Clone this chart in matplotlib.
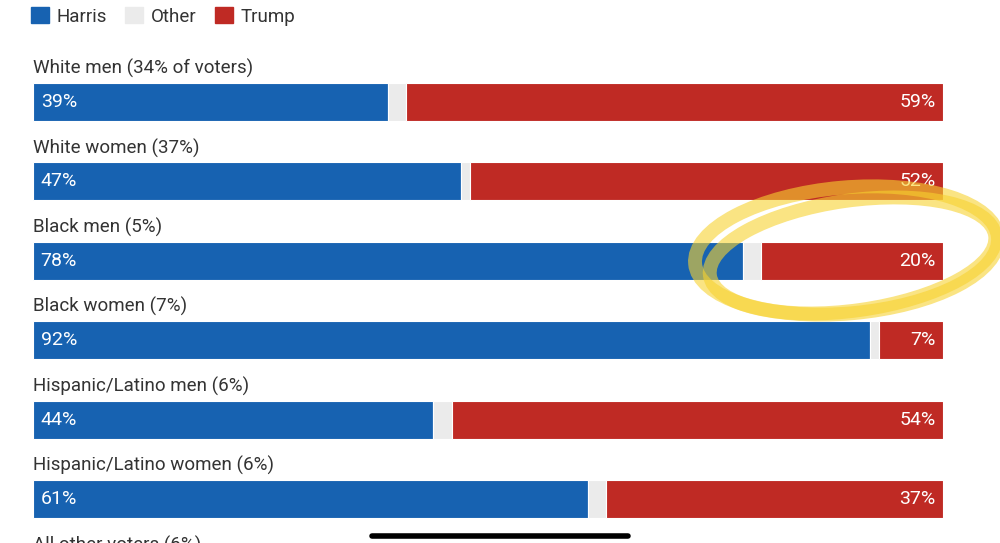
import matplotlib.pyplot as plt
from matplotlib.patches import Ellipse, Patch
from matplotlib.lines import Line2D
from matplotlib.transforms import IdentityTransform
import numpy as np

plt.rcParams['font.family'] = ['Roboto', 'DejaVu Sans']

groups = ["White men (34% of voters)", "White women (37%)", "Black men (5%)",
          "Black women (7%)", "Hispanic/Latino men (6%)", "Hispanic/Latino women (6%)",
          "All other voters (6%)"]
harris = [39, 47, 78, 92, 44, 61]
trump = [59, 52, 20, 7, 54, 37]
other = [100 - h - t for h, t in zip(harris, trump)]

c_harris = "#1762b1"
c_other = "#ebebeb"
c_trump = "#bf2a24"
c_text = "#333333"

fig = plt.figure(figsize=(10, 5.43), dpi=100)
ax = fig.add_axes([0.033, 0, 0.91, 1])

n = len(harris)
y = np.arange(n)
h = 0.48
ax.barh(y, harris, height=h, color=c_harris, edgecolor="white", linewidth=0.8)
ax.barh(y, other, left=harris, height=h, color=c_other, edgecolor="white", linewidth=0.8)
ax.barh(y, trump, left=np.add(harris, other), height=h, color=c_trump,
        edgecolor="white", linewidth=0.8)

for i in range(n):
    ax.text(0.85, i, f"{harris[i]}%", color="white", fontsize=14, va="center", ha="left")
    ax.text(99.2, i, f"{trump[i]}%", color="white", fontsize=14, va="center", ha="right")

for i, g in enumerate(groups):
    ax.text(0, i - 0.42, g, color=c_text, fontsize=13.5, va="center", ha="left", clip_on=False)

ax.set_xlim(0, 100)
ax.set_ylim((543 - 102) / 79.4, -102 / 79.4)
ax.axis("off")

# legend
handles = [Patch(color=c_harris, label="Harris"), Patch(color=c_other, label="Other"),
           Patch(color=c_trump, label="Trump")]
fig.legend(handles=handles, loc="upper left", bbox_to_anchor=(0.014, 1.018), ncol=3,
           frameon=False, fontsize=13.5, handlelength=0.95, handleheight=0.95,
           handletextpad=0.4, columnspacing=1.0, labelcolor=c_text)

# yellow highlight around the Black men / Trump share (hand-drawn loop, in pixels)
cx, cy = ax.transData.transform((89.4, 2 - 0.13))
for dx, dy, w, hh, ang in [(0, 0, 304, 126, 5), (6, -5, 288, 110, 8)]:
    fig.add_artist(Ellipse((cx + dx, cy + dy), w, hh, angle=ang, fill=False,
                           edgecolor="#f7d230", linewidth=10, alpha=0.6,
                           transform=IdentityTransform()))

# phone home indicator
fig.add_artist(Line2D([0.372, 0.628], [0.013, 0.013], color="black", linewidth=4,
                      solid_capstyle="round"))

fig.savefig("out.png", dpi=100, facecolor="white")
